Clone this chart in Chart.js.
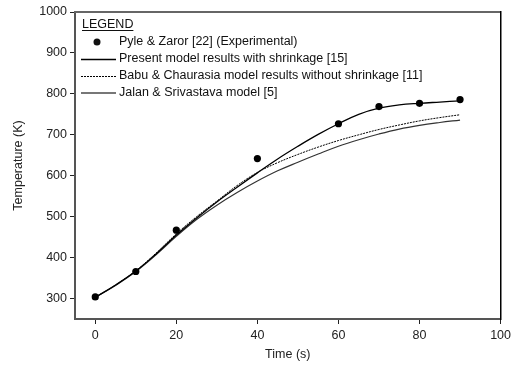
<!DOCTYPE html>
<html>
<head>
<meta charset="utf-8">
<script src="https://cdn.jsdelivr.net/npm/chart.js@4"></script>
<style>
  html, body { margin: 0; padding: 0; background: #fff; }
  #chart { display: block; }
</style>
</head>
<body>
<canvas id="chart" width="515" height="366"></canvas>
<script>
// experimental points (Pyle & Zaror)
const expTime = [0, 10, 20, 40, 60, 70, 80, 90];
const expTemp = [304, 366, 467, 642, 727, 769, 777, 786];

// model curves, read every 5 s
const modelTime = [0, 5, 10, 15, 20, 25, 30, 35, 40, 45, 50, 55, 60, 65, 70, 75, 80, 85, 90];
const presentTemp = [303, 333, 367, 409, 455, 497, 536, 572, 607, 641, 672, 701, 727, 750, 765, 773, 777, 780, 783];
const babuTemp = [303, 333, 368, 411, 458, 500, 538, 576, 608, 632, 652, 670, 686, 700, 713, 724, 734, 742, 749];
const jalanTemp = [303, 332, 366, 407, 452, 493, 528, 559, 587, 612, 633, 653, 672, 688, 702, 714, 723, 730, 736];

const xTicks = [0, 20, 40, 60, 80, 100];
const yTicks = [300, 400, 500, 600, 700, 800, 900, 1000];

const legendTitle = 'LEGEND';
const legendLabels = [
    'Pyle & Zaror [22] (Experimental)',
    'Present model results with shrinkage [15]',
    'Babu & Chaurasia model results without shrinkage [11]',
    'Jalan & Srivastava model [5]'
];

const FONT = '"Liberation Sans", Arial, sans-serif';

function pts(xs, ys) {
    return xs.map((x, i) => ({ x: x, y: ys[i] }));
}

// legend box drawn inside the plot, top left
const legendPlugin = {
    id: 'boxLegend',
    afterDraw(chart) {
        const ctx = chart.ctx;
        ctx.save();
        ctx.font = '12.5px ' + FONT;
        ctx.fillStyle = '#111';
        ctx.textBaseline = 'middle';
        ctx.textAlign = 'left';
        ctx.fillText(legendTitle, 82, 25);
        const w = ctx.measureText(legendTitle).width;
        ctx.strokeStyle = '#111';
        ctx.lineWidth = 1;
        ctx.beginPath();
        ctx.moveTo(82, 30.5);
        ctx.lineTo(82 + w, 30.5);
        ctx.stroke();

        const rows = [42, 59, 76, 93];
        // dot
        ctx.beginPath();
        ctx.arc(97, rows[0], 3.5, 0, Math.PI * 2);
        ctx.fill();
        // present
        ctx.lineWidth = 1.3;
        ctx.strokeStyle = '#000';
        ctx.beginPath(); ctx.moveTo(81, rows[1] + 0.5); ctx.lineTo(116, rows[1] + 0.5); ctx.stroke();
        // babu
        ctx.lineWidth = 1;
        ctx.setLineDash([2, 1]);
        ctx.beginPath(); ctx.moveTo(81, rows[2] + 0.5); ctx.lineTo(116, rows[2] + 0.5); ctx.stroke();
        ctx.setLineDash([]);
        // jalan
        ctx.lineWidth = 2;
        ctx.strokeStyle = '#777';
        ctx.beginPath(); ctx.moveTo(81, rows[3]); ctx.lineTo(116, rows[3]); ctx.stroke();

        legendLabels.forEach((t, i) => ctx.fillText(t, 119, rows[i]));
        ctx.restore();
    }
};

new Chart(document.querySelector('#chart').getContext('2d'), {
    type: 'line',
    data: {
        datasets: [
            {
                label: legendLabels[0],
                data: pts(expTime, expTemp),
                showLine: false,
                pointRadius: 3.6,
                pointBackgroundColor: '#000',
                pointBorderColor: '#000',
                pointBorderWidth: 0,
                order: 0
            },
            {
                label: legendLabels[1],
                data: pts(modelTime, presentTemp),
                borderColor: '#000',
                borderWidth: 1.3,
                pointRadius: 0,
                tension: 0.4,
                fill: false
            },
            {
                label: legendLabels[2],
                data: pts(modelTime, babuTemp),
                borderColor: '#000',
                borderWidth: 1,
                borderDash: [2, 1],
                pointRadius: 0,
                tension: 0.4,
                fill: false
            },
            {
                label: legendLabels[3],
                data: pts(modelTime, jalanTemp),
                borderColor: '#333',
                borderWidth: 1.2,
                pointRadius: 0,
                tension: 0.4,
                fill: false
            }
        ]
    },
    options: {
        responsive: false,
        animation: false,
        layout: { padding: { left: 11, top: 12, right: 11, bottom: 0 } },
        plugins: {
            legend: { display: false },
            tooltip: { enabled: false }
        },
        scales: {
            x: {
                type: 'linear',
                min: -5,
                max: 100,
                afterBuildTicks: s => { s.ticks = xTicks.map(v => ({ value: v })); },
                afterFit: s => { s.height = 47; },
                border: { color: '#555', width: 2 },
                grid: { drawOnChartArea: false, tickLength: 5, color: '#222', tickWidth: 1 },
                ticks: { color: '#222', font: { family: FONT, size: 12.5 }, padding: 4, callback: v => String(v) },
                title: { display: true, text: 'Time (s)', color: '#222', font: { family: FONT, size: 12.5 }, padding: { top: 2, bottom: 4 } }
            },
            y: {
                type: 'linear',
                min: 250,
                max: 1000,
                afterBuildTicks: s => { s.ticks = yTicks.map(v => ({ value: v })); },
                afterFit: s => { s.width = 64; },
                border: { color: '#555', width: 2 },
                grid: { drawOnChartArea: false, tickLength: 5, color: '#222', tickWidth: 1 },
                ticks: { color: '#222', font: { family: FONT, size: 12.5 }, padding: 3, callback: v => String(v) },
                title: { display: true, text: 'Temperature (K)', color: '#222', font: { family: FONT, size: 12.5 }, padding: { top: 0, bottom: 0 } }
            },
            x2: {
                type: 'linear',
                position: 'top',
                min: 0,
                max: 10,
                afterFit: s => { s.height = 0; },
                border: { color: '#666', width: 2 },
                grid: { display: false },
                ticks: { display: false }
            },
            y2: {
                type: 'linear',
                position: 'right',
                min: 0,
                max: 10,
                afterFit: s => { s.width = 0; },
                border: { color: '#000', width: 1.5 },
                grid: { display: false },
                ticks: { display: false }
            }
        }
    },
    plugins: [legendPlugin]
});
</script>
</body>
</html>
